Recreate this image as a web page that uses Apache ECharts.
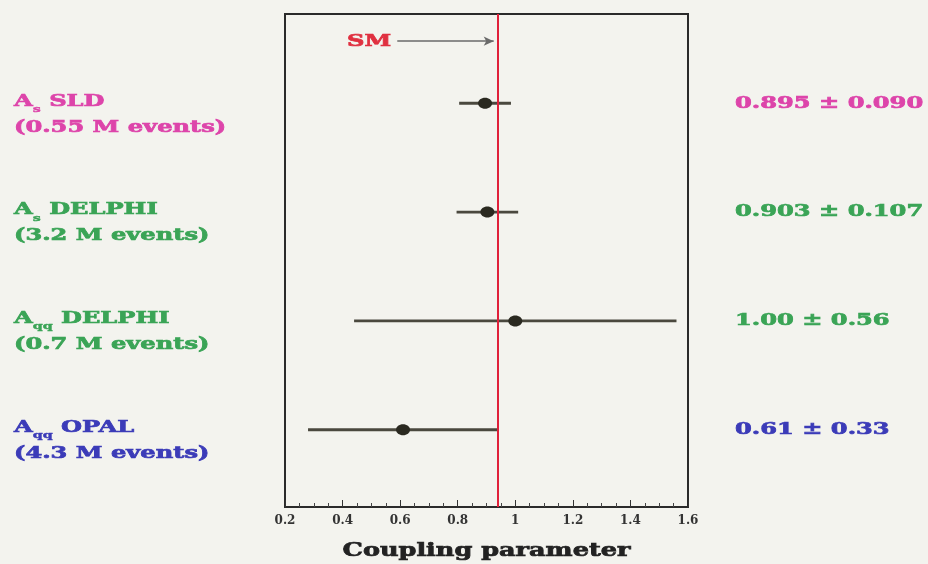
<!DOCTYPE html>
<html>
<head>
<meta charset="utf-8">
<script src="https://cdn.jsdelivr.net/npm/echarts@6/dist/echarts.min.js"></script>
<style>
html,body{margin:0;padding:0;background:#f3f3ee;}
#chart{width:928px;height:564px;}
</style>
</head>
<body>
<div id="chart"></div>
<script>
// ---- data ----
const rows = [1, 2, 3, 4];
const experiments = ['SLD', 'DELPHI', 'DELPHI', 'OPAL'];
const subscripts = ['s', 's', 'qq', 'qq'];
const eventsText = ['(0.55 M events)', '(3.2 M events)', '(0.7 M events)', '(4.3 M events)'];
const centralValues = [0.895, 0.903, 1.00, 0.61];
const errors = [0.090, 0.107, 0.56, 0.33];
const resultText = ['0.895 \u00b1 0.090', '0.903 \u00b1 0.107', '1.00 \u00b1 0.56', '0.61 \u00b1 0.33'];
const rowColors = ['#dd44aa', '#3aa456', '#3aa456', '#3b3bb8'];
const smValue = 0.936;
const smArrow = {from: 0.59, to: 0.925, row: 0.43};
const xTicks = [0.2, 0.4, 0.6, 0.8, 1, 1.2, 1.4, 1.6];
const axisTitle = 'Coupling parameter';

const FONT = '"DejaVu Serif", "Liberation Serif", serif';
const STRETCH = 1.42;
const seriesData = rows.map((r, i) => [centralValues[i], errors[i], r]);

const chart = echarts.init(document.getElementById('chart'));
chart.setOption({
  backgroundColor: '#f3f3ee',
  animation: false,
  grid: {left: 285, right: 240, top: 14, bottom: 57, show: true, borderColor: '#2a2a2a', borderWidth: 2, backgroundColor: 'transparent'},
  xAxis: {
    type: 'value', min: 0.2, max: 1.6, interval: 0.2,
    axisLine: {show: false},
    axisTick: {show: true, inside: true, length: 7, lineStyle: {color: '#333'}},
    minorTick: {show: true, splitNumber: 4, length: 4, lineStyle: {color: '#444'}},
    splitLine: {show: false},
    axisLabel: {fontFamily: FONT, fontWeight: 'bold', fontSize: 12, color: '#333', margin: 8,
      formatter: v => { const t = xTicks.find(x => Math.abs(x - v) < 1e-6); return t === undefined ? '' : String(t); }}
  },
  yAxis: {
    type: 'value', min: 0.18, max: 4.71, inverse: true,
    axisLine: {show: false}, axisTick: {show: false}, splitLine: {show: false}, axisLabel: {show: false}
  },
  series: [{
    type: 'custom',
    data: seriesData,
    renderItem: (params, api) => {
      const c = api.value(0), e = api.value(1), r = api.value(2);
      const p = api.coord([c, r]);
      const lo = api.coord([c - e, r]);
      const hi = api.coord([c + e, r]);
      return {
        type: 'group',
        children: [
          {type: 'line', shape: {x1: lo[0], y1: lo[1], x2: hi[0], y2: hi[1]}, style: {stroke: '#4a483e', lineWidth: 2.8}},
          {type: 'ellipse', shape: {cx: p[0], cy: p[1], rx: 7, ry: 5.5}, style: {fill: '#2a2920'}}
        ]
      };
    },
    markLine: {
      silent: true,
      symbol: 'none',
      data: [
        {xAxis: smValue, symbol: 'none', lineStyle: {color: '#e0203a', width: 2, type: 'solid'}, label: {show: false}},
        [
          {coord: [smArrow.from, smArrow.row], symbol: 'none', lineStyle: {color: '#6a6a6a', width: 1.5, type: 'solid'}, label: {show: false}},
          {coord: [smArrow.to, smArrow.row], symbol: 'arrow', symbolSize: [7, 10]}
        ]
      ]
    }
  }]
});

// ---- labels placed through the chart's own coordinate system ----
const graphics = [];
rows.forEach((r, i) => {
  const y = chart.convertToPixel({gridIndex: 0}, [1, r])[1];
  const c = rowColors[i];
  const base = {fill: c, stroke: c, lineWidth: 0.7, fontFamily: FONT, fontWeight: 'bold', fontSize: 17, lineHeight: 26};
  graphics.push({
    type: 'text', x: 14, y: y - 15, scaleX: STRETCH,
    style: {
      text: '{a|A}{s|' + subscripts[i] + '}{a| ' + experiments[i] + '}\n{a|' + eventsText[i] + '}',
      textAlign: 'left', textVerticalAlign: 'top',
      rich: {
        a: base,
        s: {fill: c, stroke: c, lineWidth: 0.4, fontFamily: FONT, fontWeight: 'bold', fontSize: 10, lineHeight: 26, verticalAlign: 'bottom', padding: [9, 0, 0, 0]}
      }
    }
  });
  graphics.push({
    type: 'text', x: 735, y: y, scaleX: STRETCH,
    style: {text: resultText[i], fill: c, stroke: c, lineWidth: 0.7, fontFamily: FONT, fontWeight: 'bold', fontSize: 17, textAlign: 'left', textVerticalAlign: 'middle'}
  });
});
const smStart = chart.convertToPixel({gridIndex: 0}, [smArrow.from, smArrow.row]);
graphics.push({
  type: 'text', x: smStart[0] - 6, y: smStart[1], scaleX: STRETCH,
  style: {text: 'SM', fill: '#e03040', stroke: '#e03040', lineWidth: 0.7, fontFamily: FONT, fontWeight: 'bold', fontSize: 17, textAlign: 'right', textVerticalAlign: 'middle'}
});
const mid = chart.convertToPixel({gridIndex: 0}, [0.9, 4.71]);
graphics.push({
  type: 'text', x: mid[0], y: 551, scaleX: STRETCH,
  style: {text: axisTitle, fill: '#222', stroke: '#222', lineWidth: 0.7, fontFamily: FONT, fontWeight: 'bold', fontSize: 18, textAlign: 'center', textVerticalAlign: 'middle'}
});
chart.setOption({graphic: graphics});
</script>
</body>
</html>
